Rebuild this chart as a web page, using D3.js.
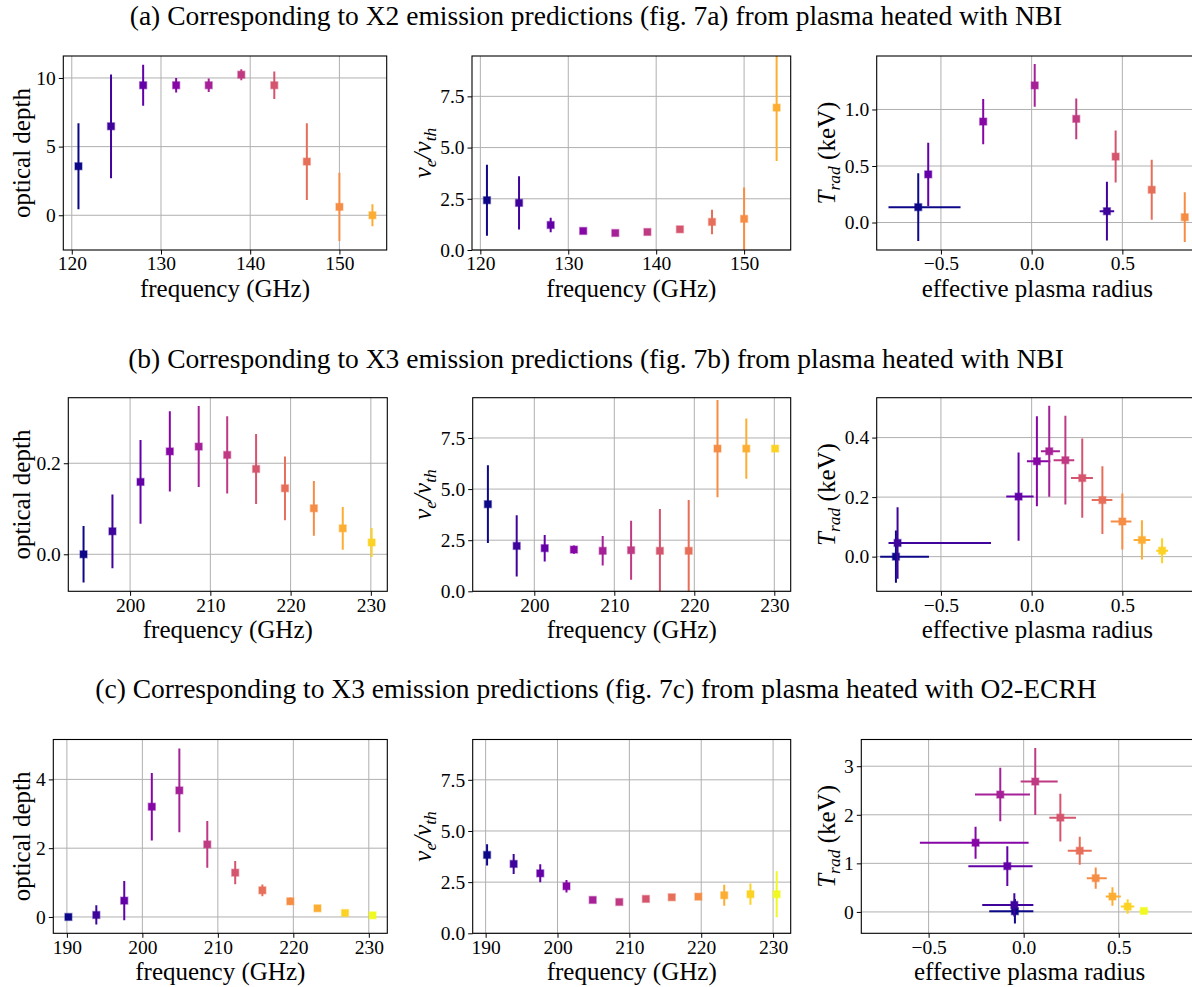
<!DOCTYPE html>
<html>
<head>
<meta charset="utf-8">
<script src="https://cdn.jsdelivr.net/npm/d3@7"></script>
<style>
  html, body { margin: 0; padding: 0; background: #fff; }
  svg { display: block; }
  text { font-family: "Liberation Serif", "Times New Roman", serif; fill: #000; }
</style>
</head>
<body>
<svg id="fig" width="1192" height="987"></svg>
<script>
// ---- (a) X2 emission, NBI heating ----
const freqA    = [120.75, 124.4, 128.0, 131.7, 135.35, 139.0, 142.7, 146.35, 150.0, 153.7];
const tauA     = [3.57, 6.48, 9.47, 9.47, 9.47, 10.24, 9.47, 3.91, 0.61, 0.0];
const tauErrA  = [3.13, 3.78, 1.5, 0.52, 0.5, 0.4, 1.0, 2.8, 2.48, 0.8];
const veA      = [2.43, 2.30, 1.22, 0.93, 0.83, 0.88, 1.01, 1.37, 1.52, 6.95];
const veErrA   = [1.73, 1.3, 0.35, 0.05, 0.03, 0.03, 0.05, 0.6, 1.53, 2.61];
const radA     = [-0.625, 0.415, -0.57, -0.267, 0.017, 0.246, 0.463, 0.662, 0.844, null];
const radLoA   = [0.164, 0.04, 0.015, 0.015, 0.015, 0.015, 0.015, 0.015, 0.015, null];
const radHiA   = [0.233, 0.04, 0.015, 0.015, 0.015, 0.015, 0.015, 0.015, 0.015, null];
const tradA    = [0.136, 0.10, 0.426, 0.893, 1.213, 0.917, 0.583, 0.29, 0.047, null];
const tradErrA = [0.30, 0.26, 0.28, 0.20, 0.19, 0.18, 0.23, 0.265, 0.22, null];

// ---- (b) X3 emission, NBI heating ----
const freqB    = [194.2, 197.8, 201.3, 204.95, 208.55, 212.1, 215.7, 219.3, 222.9, 226.5, 230.1];
const tauB     = [0.0, 0.0505, 0.159, 0.226, 0.2366, 0.2183, 0.1875, 0.145, 0.101, 0.057, 0.026];
const tauErrB  = [0.062, 0.081, 0.092, 0.088, 0.089, 0.085, 0.077, 0.07, 0.06, 0.047, 0.032];
const veB      = [4.26, 2.22, 2.11, 2.04, 1.98, 2.01, 1.98, 1.98, 6.98, 6.98, 6.98];
const veErrB   = [1.9, 1.5, 0.65, 0.2, 0.72, 1.44, 2.04, 2.48, 2.38, 1.47, 0.0];
const radB     = [-0.748, -0.739, -0.072, 0.029, 0.097, 0.186, 0.279, 0.39, 0.5, 0.608, 0.719];
const radLoB   = [0.087, 0.05, 0.068, 0.055, 0.046, 0.065, 0.062, 0.059, 0.064, 0.046, 0.032];
const radHiB   = [0.182, 0.515, 0.083, 0.074, 0.059, 0.049, 0.059, 0.055, 0.05, 0.046, 0.033];
const tradB    = [0.0, 0.046, 0.2017, 0.3205, 0.354, 0.324, 0.264, 0.19, 0.118, 0.056, 0.020];
const tradErrB = [0.088, 0.12, 0.148, 0.151, 0.153, 0.149, 0.133, 0.114, 0.094, 0.066, 0.042];

// ---- (c) X3 emission, O2-ECRH heating ----
const freqC    = [190.2, 193.9, 197.6, 201.25, 204.9, 208.6, 212.3, 215.9, 219.6, 223.2, 226.85, 230.5];
const tauC     = [0.0, 0.058, 0.475, 3.206, 3.68, 2.11, 1.288, 0.775, 0.455, 0.252, 0.116, 0.048];
const tauErrC  = [0.03, 0.28, 0.57, 0.98, 1.22, 0.68, 0.34, 0.17, 0.11, 0.05, 0.03, 0.02];
const veC      = [3.83, 3.39, 2.93, 2.30, 1.63, 1.53, 1.68, 1.76, 1.79, 1.86, 1.91, 1.91];
const veErrC   = [0.52, 0.49, 0.44, 0.31, 0.05, 0.05, 0.05, 0.05, 0.05, 0.51, 0.52, 1.12];
const radC     = [-0.046, -0.049, -0.086, -0.253, -0.123, 0.061, 0.193, 0.295, 0.379, 0.467, 0.547, 0.632];
const radLoC   = [0.135, 0.169, 0.205, 0.293, 0.133, 0.077, 0.058, 0.063, 0.047, 0.035, 0.036, 0.023];
const radHiC   = [0.097, 0.10, 0.133, 0.279, 0.156, 0.118, 0.082, 0.063, 0.058, 0.044, 0.035, 0.024];
const tradC    = [0.014, 0.145, 0.943, 1.425, 2.416, 2.684, 1.941, 1.26, 0.695, 0.317, 0.11, 0.02];
const tradErrC = [0.25, 0.24, 0.41, 0.33, 0.55, 0.69, 0.49, 0.29, 0.22, 0.19, 0.15, 0.05];

// ---- tick values ----
const freqTicksA = [120, 130, 140, 150];
const freqTicksB = [200, 210, 220, 230];
const freqTicksC = [190, 200, 210, 220, 230];
const tauTicksA  = [0, 5, 10];
const tauTicksB  = [0.0, 0.2];
const tauTicksC  = [0, 2, 4];
const veTicks    = [0.0, 2.5, 5.0, 7.5];
const radTicks   = [-0.5, 0.0, 0.5];
const tradTicksA = [0.0, 0.5, 1.0];
const tradTicksB = [0.0, 0.2, 0.4];
const tradTicksC = [0, 1, 2, 3];

const titles = [
  "(a) Corresponding to X2 emission predictions (fig. 7a) from plasma heated with NBI",
  "(b) Corresponding to X3 emission predictions (fig. 7b) from plasma heated with NBI",
  "(c) Corresponding to X3 emission predictions (fig. 7c) from plasma heated with O2-ECRH"
];

const FONT = "'Liberation Serif', 'Times New Roman', serif";
const TITLE_SIZE = 27.5, LABEL_SIZE = 25, TICK_SIZE = 19.5, SUB_SIZE = 17.5;

const svg = d3.select("#fig");
svg.append("rect").attr("width", 1192).attr("height", 987).attr("fill", "#fff");

const minus = s => s.replace("-", "\u2212");
const f0 = d => minus(d3.format(".0f")(d));
const f1 = d => minus(d3.format(".1f")(d));

const colorOf = i => d3.interpolatePlasma(i / 11);

let clipId = 0;

function drawPanel(p) {
  const x = d3.scaleLinear().domain(p.xDomain).range([p.left, p.right]);
  const y = d3.scaleLinear().domain(p.yDomain).range([p.bottom, p.top]);
  const g = svg.append("g");

  // grid
  g.append("g").selectAll("line").data(p.xTicks).join("line")
    .attr("x1", d => x(d)).attr("x2", d => x(d))
    .attr("y1", p.top).attr("y2", p.bottom)
    .attr("stroke", "#b0b0b0").attr("stroke-width", 1);
  g.append("g").selectAll("line").data(p.yTicks).join("line")
    .attr("x1", p.left).attr("x2", p.right)
    .attr("y1", d => y(d)).attr("y2", d => y(d))
    .attr("stroke", "#b0b0b0").attr("stroke-width", 1);

  // data marks, clipped to the axes box
  const id = "clip" + (clipId++);
  svg.append("clipPath").attr("id", id).append("rect")
    .attr("x", p.left).attr("y", p.top)
    .attr("width", p.right - p.left).attr("height", p.bottom - p.top);
  const m = g.append("g").attr("clip-path", `url(#${id})`);
  p.ys.forEach((v, i) => {
    if (v == null) return;
    const xv = p.xs[i];
    const c = colorOf(i);
    const pg = m.append("g");
    if (p.xLo) {
      pg.append("line")
        .attr("x1", x(xv - p.xLo[i])).attr("x2", x(xv + p.xHi[i]))
        .attr("y1", y(v)).attr("y2", y(v))
        .attr("stroke", c).attr("stroke-width", 2);
    }
    const e = p.yErr[i];
    if (e > 0) {
      pg.append("line")
        .attr("x1", x(xv)).attr("x2", x(xv))
        .attr("y1", y(v - e)).attr("y2", y(v + e))
        .attr("stroke", c).attr("stroke-width", 2);
    }
    pg.append("rect")
      .attr("x", x(xv) - 3.5).attr("y", y(v) - 3.5)
      .attr("width", 7).attr("height", 7)
      .attr("fill", c)
      .attr("stroke", c).attr("stroke-opacity", 0.4).attr("stroke-width", 1.4);
  });

  // axes
  const ax = g.append("g").attr("transform", `translate(0,${p.bottom})`)
    .call(d3.axisBottom(x).tickValues(p.xTicks).tickFormat(p.xFmt)
      .tickSizeInner(4.5).tickSizeOuter(0).tickPadding(2));
  const ay = g.append("g").attr("transform", `translate(${p.left},0)`)
    .call(d3.axisLeft(y).tickValues(p.yTicks).tickFormat(p.yFmt)
      .tickSizeInner(4.5).tickSizeOuter(0).tickPadding(3));
  [ax, ay].forEach(a => {
    a.attr("font-family", null).attr("font-size", null);
    a.select(".domain").remove();
    a.selectAll("line").attr("stroke", "#000").attr("stroke-width", 1);
    a.selectAll("text").style("font-family", FONT)
      .style("font-size", TICK_SIZE + "px").attr("fill", "#000");
  });

  // spines
  g.append("rect").attr("x", p.left).attr("y", p.top)
    .attr("width", p.right - p.left).attr("height", p.bottom - p.top)
    .attr("fill", "none").attr("stroke", "#000").attr("stroke-width", 1.1);

  // x label
  g.append("text")
    .attr("x", (p.left + p.right) / 2).attr("y", p.bottom + 47)
    .attr("text-anchor", "middle")
    .style("font-family", FONT).style("font-size", LABEL_SIZE + "px")
    .text(p.xLabel);

  // y label
  const cy = (p.top + p.bottom) / 2;
  const yl = g.append("text")
    .attr("transform", `translate(${p.yLabelX},${cy}) rotate(-90)`)
    .attr("text-anchor", "middle")
    .style("font-family", FONT).style("font-size", LABEL_SIZE + "px");
  p.yLabel(yl);
}

const labelTau = t => t.text("optical depth");
const labelVe = t => {
  t.append("tspan").attr("font-style", "italic").text("v");
  t.append("tspan").attr("font-style", "italic").style("font-size", SUB_SIZE + "px").attr("dy", 5).text("e");
  t.append("tspan").attr("font-style", "italic").attr("dy", -5).text("/");
  t.append("tspan").attr("font-style", "italic").text("v");
  t.append("tspan").attr("font-style", "italic").style("font-size", SUB_SIZE + "px").attr("dy", 5).text("th");
};
const labelTrad = t => {
  t.append("tspan").attr("font-style", "italic").text("T");
  t.append("tspan").attr("font-style", "italic").style("font-size", SUB_SIZE + "px").attr("dy", 5).text("rad");
  t.append("tspan").attr("dy", -5).text(" (keV)");
};

const radDomain = [-0.854, 0.917];

const rows = [
  { title: titles[0], titleY: 25, top: 56, bottom: 250,
    cols: [[63.3, 386.7], [472, 790.7], [876.7, 1198]],
    xDomain: [119.05, 155.3], freq: freqA, fTicks: freqTicksA,
    tau: tauA, tauErr: tauErrA, tauDomain: [-2.53, 11.6], tauTicks: tauTicksA, tauFmt: f0,
    ve: veA, veErr: veErrA,
    rad: radA, radLo: radLoA, radHi: radHiA, trad: tradA, tradErr: tradErrA,
    tradDomain: [-0.243, 1.473], tradTicks: tradTicksA, tradFmt: f1 },
  { title: titles[1], titleY: 368, top: 397.7, bottom: 591.3,
    cols: [[68.3, 387.3], [472.7, 790.7], [876.7, 1198]],
    xDomain: [192.3, 232.05], freq: freqB, fTicks: freqTicksB,
    tau: tauB, tauErr: tauErrB, tauDomain: [-0.0813, 0.344], tauTicks: tauTicksB, tauFmt: f1,
    ve: veB, veErr: veErrB,
    rad: radB, radLo: radLoB, radHi: radHiB, trad: tradB, tradErr: tradErrB,
    tradDomain: [-0.1165, 0.534], tradTicks: tradTicksB, tradFmt: f1 },
  { title: titles[2], titleY: 698, top: 739.5, bottom: 933.3,
    cols: [[53.3, 387.3], [472.7, 790.7], [861.3, 1198]],
    xDomain: [188.2, 232.45], freq: freqC, fTicks: freqTicksC,
    tau: tauC, tauErr: tauErrC, tauDomain: [-0.475, 5.16], tauTicks: tauTicksC, tauFmt: f0,
    ve: veC, veErr: veErrC,
    rad: radC, radLo: radLoC, radHi: radHiC, trad: tradC, tradErr: tradErrC,
    tradDomain: [-0.44, 3.55], tradTicks: tradTicksC, tradFmt: f0 }
];

rows.forEach(r => {
  svg.append("text").attr("x", 596).attr("y", r.titleY)
    .attr("text-anchor", "middle")
    .style("font-family", FONT).style("font-size", TITLE_SIZE + "px")
    .text(r.title);

  const base = { top: r.top, bottom: r.bottom };
  drawPanel(Object.assign({}, base, {
    left: r.cols[0][0], right: r.cols[0][1],
    xDomain: r.xDomain, yDomain: r.tauDomain,
    xTicks: r.fTicks, yTicks: r.tauTicks, xFmt: f0, yFmt: r.tauFmt,
    xs: r.freq, ys: r.tau, yErr: r.tauErr,
    xLabel: "frequency (GHz)", yLabel: labelTau, yLabelX: 30
  }));
  drawPanel(Object.assign({}, base, {
    left: r.cols[1][0], right: r.cols[1][1],
    xDomain: r.xDomain, yDomain: [0, 9.47],
    xTicks: r.fTicks, yTicks: veTicks, xFmt: f0, yFmt: f1,
    xs: r.freq, ys: r.ve, yErr: r.veErr,
    xLabel: "frequency (GHz)", yLabel: labelVe, yLabelX: 431
  }));
  drawPanel(Object.assign({}, base, {
    left: r.cols[2][0], right: r.cols[2][1],
    xDomain: radDomain, yDomain: r.tradDomain,
    xTicks: radTicks, yTicks: r.tradTicks, xFmt: f1, yFmt: r.tradFmt,
    xs: r.rad, ys: r.trad, yErr: r.tradErr, xLo: r.radLo, xHi: r.radHi,
    xLabel: "effective plasma radius", yLabel: labelTrad, yLabelX: 835
  }));
});
</script>
</body>
</html>
